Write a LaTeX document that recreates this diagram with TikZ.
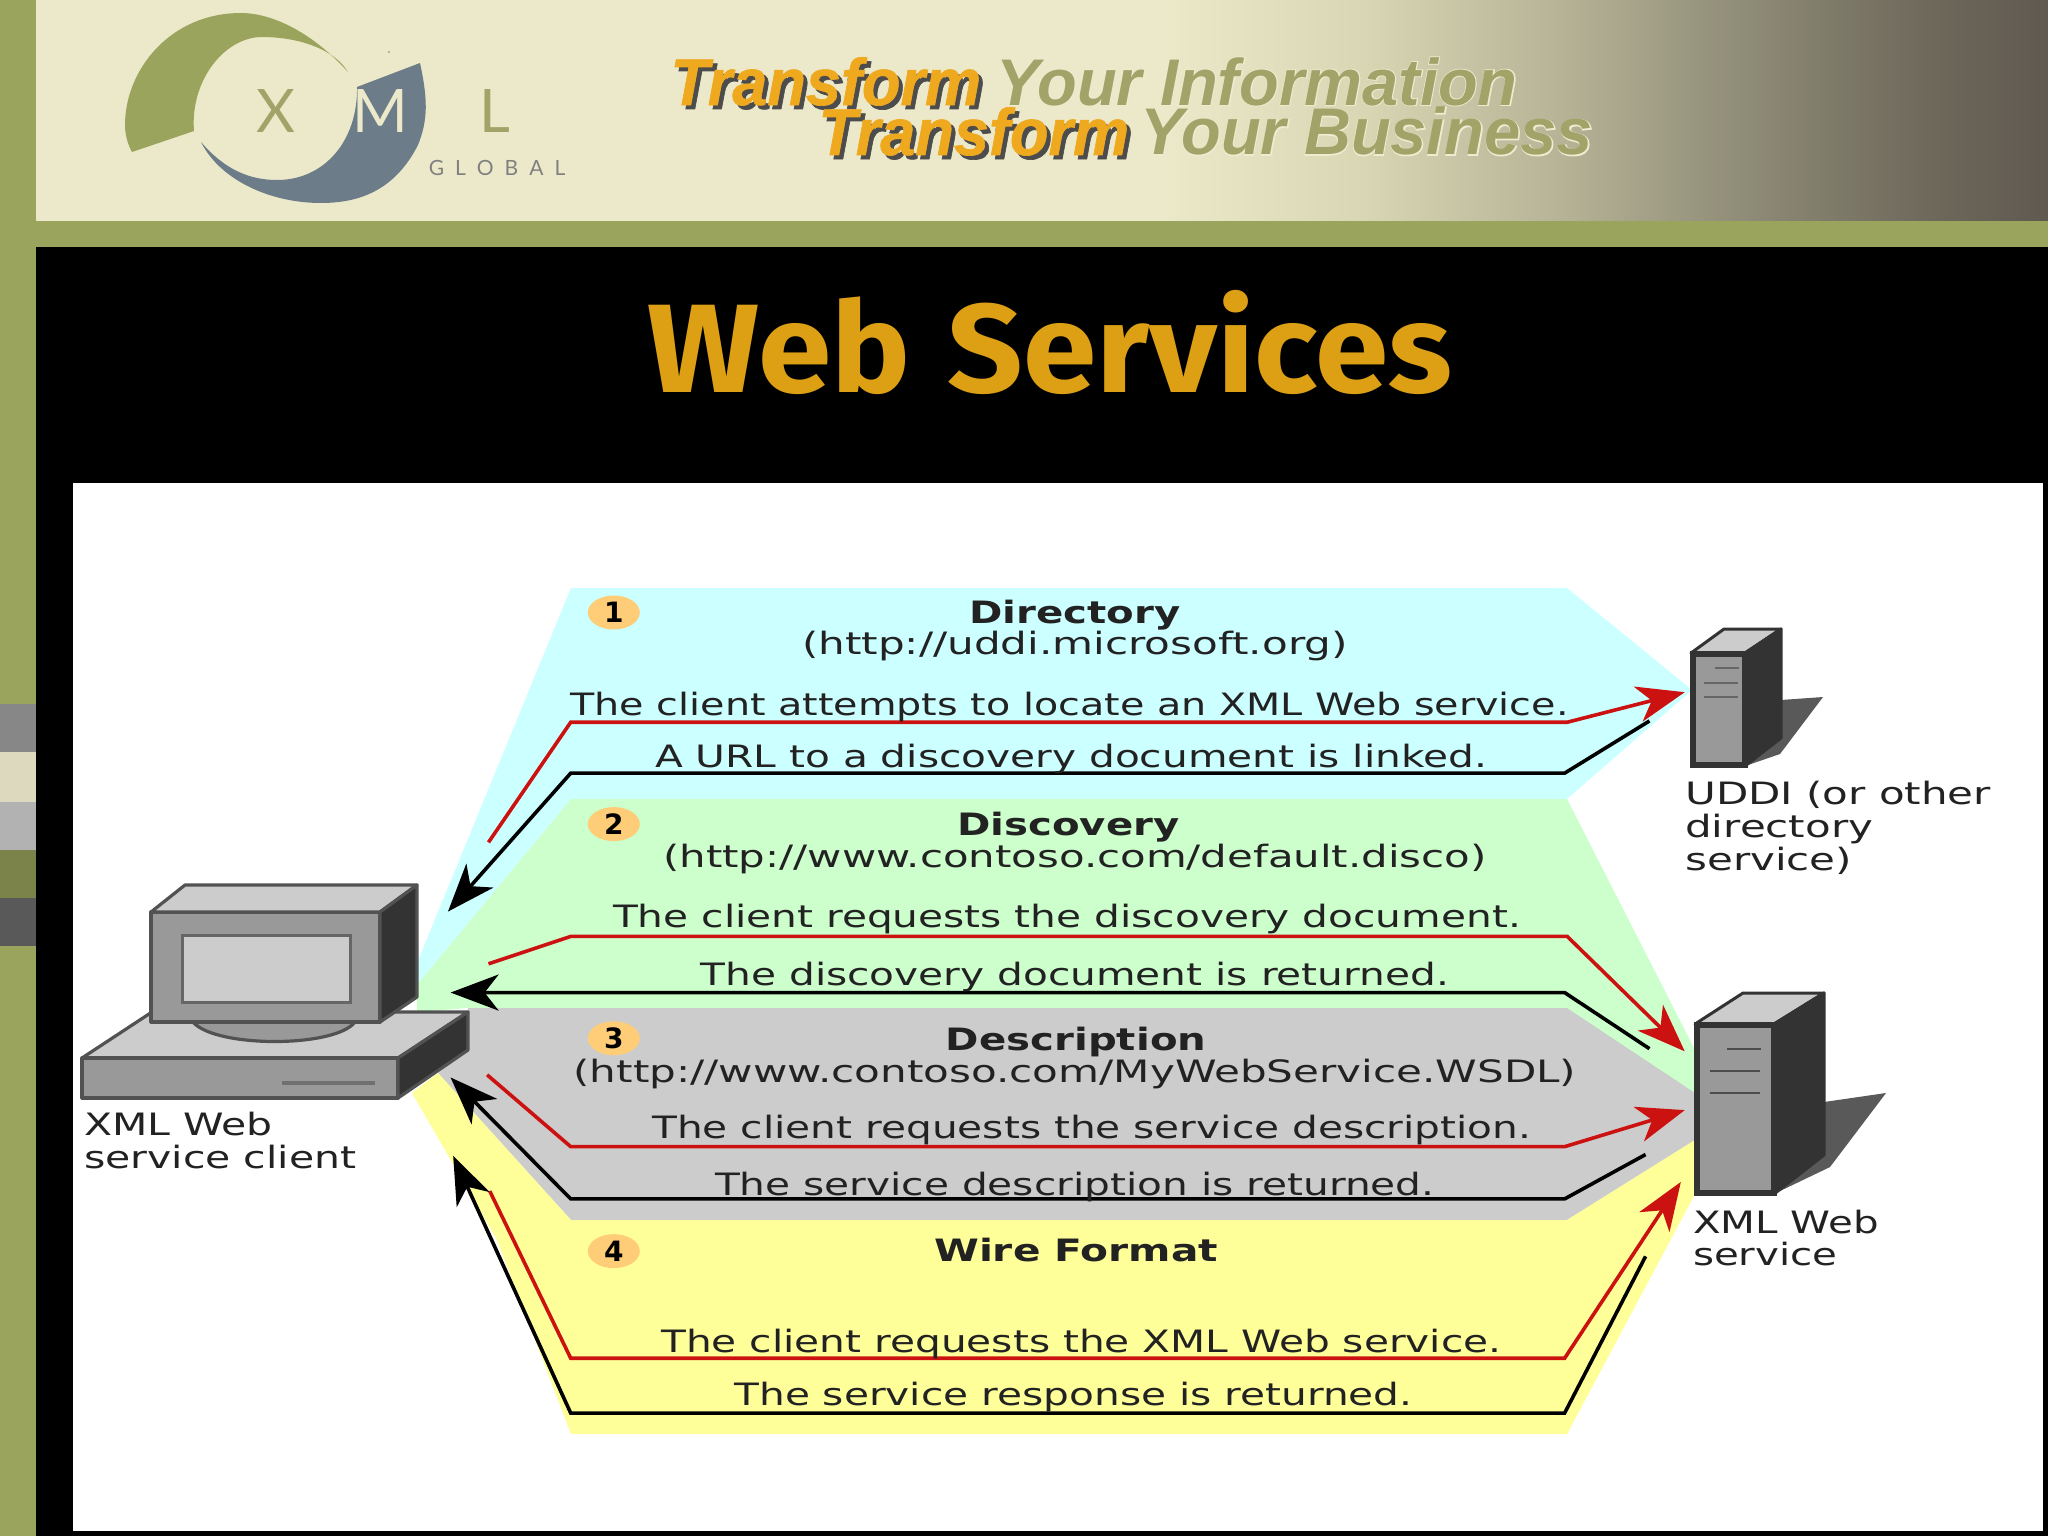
\documentclass[tikz,border=0pt]{standalone}
\usepackage{fontspec}
\setmainfont{DejaVu Sans}
\newfontfamily\bannerfont{Liberation Sans}
\newfontfamily\titlefont{Fira Sans}
\newfontfamily\logofont{Lato}
\usetikzlibrary{arrows.meta,shapes.geometric}
\definecolor{olive}{HTML}{9BA45C}
\definecolor{cream}{HTML}{ECE9CA}
\definecolor{steel}{HTML}{6C7C88}
\definecolor{gold}{HTML}{DDA015}
\definecolor{orangeT}{HTML}{EFA91F}
\definecolor{oliveT}{HTML}{A0A468}
\definecolor{cyanP}{HTML}{CCFFFF}
\definecolor{greenP}{HTML}{CCFFCC}
\definecolor{grayP}{HTML}{CCCCCC}
\definecolor{yellowP}{HTML}{FFFF99}
\definecolor{redL}{HTML}{CC1111}
\definecolor{badge}{HTML}{FFCC77}
\definecolor{txt}{HTML}{222222}
\definecolor{hgLight}{HTML}{CCCCCC}
\definecolor{hgMid}{HTML}{999999}
\definecolor{hgDark}{HTML}{333333}
\definecolor{bs1}{HTML}{D9D6B4}
\definecolor{bs2}{HTML}{B5B296}
\definecolor{bs3}{HTML}{8A8773}
\definecolor{bs4}{HTML}{6E695B}
\definecolor{bs5}{HTML}{5F5950}
\pgfdeclarehorizontalshading{bannershade}{100bp}{
 color(0bp)=(cream); color(53bp)=(cream); color(58bp)=(bs1); color(63bp)=(bs2);
 color(68bp)=(bs3); color(72bp)=(bs4); color(75bp)=(bs5); color(100bp)=(bs5)}
\tikzset{
 flowred/.style={draw=redL,line width=1.8pt,-{Stealth[length=24pt,width=18pt,inset=7pt]}},
 flowblack/.style={draw=black,line width=1.8pt,-{Stealth[length=24pt,width=18pt,inset=7pt]}},
 steptext/.style={font=\fontsize{15.4}{18}\selectfont,text=txt,inner sep=0pt,xscale=1.32,transform shape},
 headtext/.style={steptext,font=\fontsize{15.4}{18}\selectfont\bfseries},
 sidetext/.style={font=\fontsize{15.4}{16.4}\selectfont,text=txt,inner sep=0pt,align=left,anchor=north west,xscale=1.33,transform shape},
 badgeshape/.style={ellipse,fill=badge,minimum width=26pt,minimum height=17pt,inner sep=0pt,font=\fontsize{14}{16}\selectfont\bfseries},
 hw/.style={draw=hgDark!85,line width=1.6pt,line join=round},
 bannerT/.style={font=\bannerfont\fontsize{33}{33}\selectfont\bfseries\itshape,inner sep=0pt,anchor=base west,xscale=.985,transform shape},
}
\begin{document}
\begin{tikzpicture}[x=0.5pt,y=-0.5pt]
\useasboundingbox (0,0) rectangle (2048,1536);
% frame
\fill[olive] (0,0) rectangle (2048,1536);
\fill[black] (36,247) rectangle (2048,1536);
\shade[shading=bannershade] (36,0) rectangle (2048,220);
\fill[white] (73,483) rectangle (2043,1531);
\fill[black!47] (0,704) rectangle (36,752);
\fill[cream!85!gray] (0,752) rectangle (36,802);
\fill[black!30] (0,802) rectangle (36,850);
\fill[olive!80!black] (0,850) rectangle (36,898);
\fill[black!65] (0,898) rectangle (36,946);
% logo
\fill[olive] (348,72) .. controls (310,30) and (270,13) .. (241,13) .. controls (170,13) and (125,70) .. (125,125) .. controls (125,135) and (128,145) .. (132,152) -- (194,131) .. controls (190,80) and (225,37) .. (262,37) .. controls (300,37) and (335,50) .. (348,72) -- cycle;
\fill[steel] (420,63) .. controls (428,100) and (428,120) .. (418,145) .. controls (395,190) and (360,203) .. (321,203) .. controls (270,203) and (220,180) .. (201,142) .. controls (225,170) and (250,180) .. (277,180) .. controls (325,180) and (358,140) .. (357,87) -- cycle;
\node[inner sep=0pt,font=\logofont\fontsize{30}{30}\selectfont,text=oliveT] (lx) at (276,111) {X};
\node[inner sep=0pt,font=\logofont\fontsize{30}{30}\selectfont,text=cream] (lm) at (380,111) {M};
\node[inner sep=0pt,font=\logofont\fontsize{30}{30}\selectfont,text=oliveT] (ll) at (495,111) {L};
\node[inner sep=0pt,font=\logofont\fontsize{10.5}{12}\selectfont,text=gray] (lg) at (497,168) {G\hspace{5.5pt}L\hspace{5.5pt}O\hspace{5.5pt}B\hspace{5.5pt}A\hspace{5.5pt}L};
\fill[black] (389,52) circle (0.7);
% banner text
\foreach \nm/\px/\py/\tx in {c/996/105/Your Information,d/1140/155/Your Business}{
 \node[bannerT,text=cream!90!white] at (\px,\py) {\addfontfeature{FakeBold=2.5}\tx};
 \node[bannerT,text=oliveT] (\nm) at (\px,\py) {\tx};
}
\foreach \nm/\px/\py/\tx/\col in {a/670/105/Transform/orangeT,b/818/155/Transform/orangeT}{
 \node[bannerT,xscale=.97,text=black!70] at (\px+4,\py+4) {\addfontfeature{FakeBold=1}\tx};
 \node[bannerT,xscale=.97,text=\col] (\nm) at (\px,\py) {\addfontfeature{FakeBold=1}\tx};
}
% title
\node[inner sep=0pt,text=gold,font=\titlefont\fontsize{63}{63}\selectfont\bfseries,xscale=1.05,transform shape] (title) at (1050,342) {Web\hspace{3pt} Services};
% panels
\fill[cyanP] (571,588) -- (1567,588) -- (1692,690) -- (1567,799) -- (571,799) -- (417,985) -- (417,963) -- cycle;
\fill[greenP] (571,799) -- (1567,799) -- (1695,1050) -- (1695,1095) -- (1567,1008) -- (468,1008) -- (417,1012) -- (417,985) -- cycle;
\fill[grayP] (468,1008) -- (1567,1008) -- (1695,1093) -- (1695,1140) -- (1567,1220) -- (571,1220) -- (438,1073) -- (468,1050) -- cycle;
\fill[yellowP] (438,1073) -- (571,1220) -- (1567,1220) -- (1695,1140) -- (1695,1194) -- (1567,1434) -- (571,1434) -- (497,1240) -- (412,1093) -- cycle;
% computer
\draw[hw,fill=hgLight] (82,1058) -- (152,1012) -- (468,1012) -- (398,1058) -- cycle;
\draw[hw,fill=hgMid] (82,1058) rectangle (398,1098);
\draw[hw,fill=hgDark] (398,1058) -- (468,1012) -- (468,1050) -- (398,1098) -- cycle;
\draw[draw=hgDark!70,line width=1.6pt] (282,1083) -- (375,1083);
\draw[hw,fill=hgMid] (193,1022) .. controls (215,1048) and (335,1048) .. (355,1022) -- cycle;
\draw[hw,fill=hgMid] (151,912) rectangle (380,1022);
\draw[hw,fill=hgLight] (151,912) -- (185,885) -- (417,885) -- (380,912) -- cycle;
\draw[hw,fill=hgDark] (380,912) -- (417,885) -- (417,997) -- (380,1022) -- cycle;
\draw[draw=black!60,line width=1.5pt,fill=hgLight] (182,935) rectangle (350,1002);
% UDDI server
\fill[black!65] (1781,700) -- (1823,697) -- (1780,754) -- (1745,766) -- cycle;
\draw[hw,draw=hgDark,line width=1.5pt,fill=hgLight] (1691,653) -- (1724,629) -- (1781,629) -- (1745,653) -- cycle;
\draw[draw=hgDark,line width=1.5pt,fill=hgDark,line join=round] (1745,653) -- (1781,629) -- (1781,738) -- (1745,766) -- cycle;
\draw[draw=hgDark,line width=3pt,fill=hgMid] (1693,654) rectangle (1745,765);
\draw[black!60,line width=1.3pt] (1715,668) -- (1739,668) (1704,683) -- (1738,683) (1704,697) -- (1738,697);
% service server
\fill[black!65] (1824,1102) -- (1886,1093) -- (1830,1167) -- (1780,1191) -- cycle;
\draw[draw=hgDark,line width=1.5pt,fill=hgLight,line join=round] (1695,1024) -- (1743,993) -- (1824,993) -- (1774,1024) -- cycle;
\draw[draw=hgDark,line width=1.5pt,fill=hgDark,line join=round] (1774,1024) -- (1824,993) -- (1824,1155) -- (1774,1194) -- cycle;
\draw[draw=hgDark,line width=3pt,fill=hgMid] (1697,1025) rectangle (1774,1193);
\draw[black!70,line width=1pt] (1727,1049) -- (1761,1049) (1710,1071) -- (1760,1071) (1710,1093) -- (1760,1093);
\begin{scope}[x=0.653pt,y=-0.653pt]
% connectors
\coordinate (r1a) at (374,645); \coordinate (r1b) at (437,553); \coordinate (r1c) at (1200,553); \coordinate (r1d) at (1290,530);
\coordinate (k1a) at (1263,552); \coordinate (k1b) at (1198,592); \coordinate (k1c) at (437,592); \coordinate (k1d) at (343,698);
\coordinate (r2a) at (374,738); \coordinate (r2b) at (437,717); \coordinate (r2c) at (1200,717); \coordinate (r2d) at (1290,805);
\coordinate (k2a) at (1263,803); \coordinate (k2b) at (1198,760); \coordinate (k2d) at (345,760);
\coordinate (r3a) at (373,823); \coordinate (r3b) at (437,878); \coordinate (r3c) at (1198,878); \coordinate (r3d) at (1290,850);
\coordinate (k3a) at (1260,884); \coordinate (k3b) at (1198,918); \coordinate (k3c) at (437,918); \coordinate (k3d) at (345,825);
\coordinate (r4a) at (375,912); \coordinate (r4b) at (437,1040); \coordinate (r4c) at (1198,1040); \coordinate (r4d) at (1287,905);
\coordinate (k4a) at (1260,962); \coordinate (k4b) at (1198,1082); \coordinate (k4c) at (437,1082); \coordinate (k4d) at (347,885);
\draw[flowred] (r1a) -- (r1b) -- (r1c) -- (r1d);
\draw[flowblack] (k1a) -- (k1b) -- (k1c) -- (k1d);
\draw[flowred] (r2a) -- (r2b) -- (r2c) -- (r2d);
\draw[flowblack] (k2a) -- (k2b) -- (k2d);
\draw[flowred] (r3a) -- (r3b) -- (r3c) -- (r3d);
\draw[flowblack] (k3a) -- (k3b) -- (k3c) -- (k3d);
\draw[flowred] (r4a) -- (r4b) -- (r4c) -- (r4d);
\draw[flowblack] (k4a) -- (k4b) -- (k4c) -- (k4d);
% badges
\node[badgeshape] (n1) at (470,469) {1};
\node[badgeshape] (n2) at (470,631) {2};
\node[badgeshape] (n3) at (470,795) {3};
\node[badgeshape] (n4) at (470,958) {4};
% text
\node[headtext,xscale=.99] (t1) at (823,471) {Directory};
\node[steptext,xscale=1.035] (t2) at (823,495) {(http://uddi.microsoft.org)};
\node[steptext,xscale=.975] (t3) at (819,541) {The client attempts to locate an XML Web service.};
\node[steptext] (t4) at (820,581) {A URL to a discovery document is linked.};
\node[headtext,xscale=.99] (t5) at (818,633) {Discovery};
\node[steptext,xscale=1.03] (t6) at (823,658) {(http://www.contoso.com/default.disco)};
\node[steptext] (t7) at (817,704) {The client requests the discovery document.};
\node[steptext] (t8) at (823,748) {The discovery document is returned.};
\node[headtext,xscale=.99] (t9) at (824,798) {Description};
\node[steptext,xscale=1.035] (t10) at (823,822) {(http://www.contoso.com/MyWebService.WSDL)};
\node[steptext] (t11) at (836,865) {The client requests the service description.};
\node[steptext] (t12) at (823,909) {The service description is returned.};
\node[headtext] (t13) at (824,957) {Wire Format};
\node[steptext] (t14) at (828,1029) {The client requests the XML Web service.};
\node[steptext] (t15) at (822,1070) {The service response is returned.};
\node[sidetext] (c1) at (64,851) {XML Web\\service client};
\node[sidetext,xscale=1.025] (c2) at (1290,598) {UDDI (or other\\directory\\service)};
\node[sidetext,xscale=.985] (c3) at (1296,926) {XML Web\\service};
\end{scope}
\end{tikzpicture}
\end{document}
